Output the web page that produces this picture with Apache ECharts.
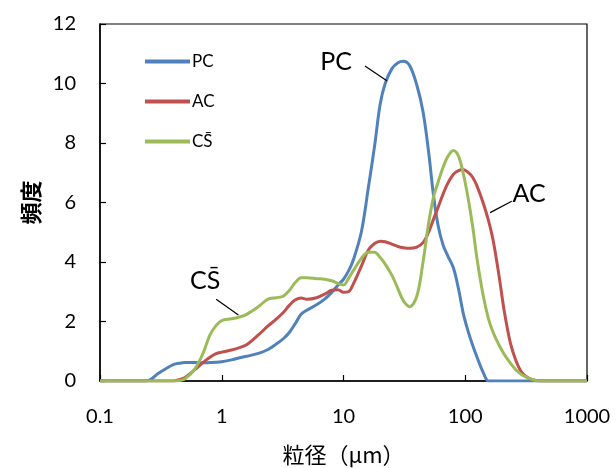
<!DOCTYPE html>
<html>
<head>
<meta charset="utf-8">
<script src="https://cdn.jsdelivr.net/npm/echarts@6/dist/echarts.min.js"></script>
<style>
  html, body { margin: 0; padding: 0; background: #fff; }
  #chart { width: 616px; height: 468px; }
</style>
</head>
<body>
<div id="chart"></div>
<script>
// 粒径 (μm)
const sizes = [0.1, 0.2, 0.25, 0.3, 0.35, 0.4, 0.45, 0.5, 0.6, 0.7, 0.8, 0.9, 1.0, 1.2, 1.4, 1.6,
  2.0, 2.4, 2.8, 3.2, 3.6, 4.0, 4.5, 5.0, 6.0, 7.0, 8.0, 9.0, 10, 11, 12, 14, 16, 18, 20, 22,
  25, 28, 31, 35, 40, 45, 50, 55, 60, 66, 72, 80, 88, 96, 105, 115, 125, 140, 155, 170, 190,
  210, 235, 260, 290, 330, 380, 450, 600, 1000];

const pcFreq = [0, 0, 0.02, 0.25, 0.42, 0.55, 0.6, 0.62, 0.62, 0.61, 0.62, 0.63, 0.65, 0.71, 0.78, 0.83,
  0.93, 1.06, 1.24, 1.42, 1.64, 1.92, 2.25, 2.38, 2.56, 2.75, 2.98, 3.22, 3.42, 3.7, 4.05, 5.0, 6.5, 7.9, 9.3, 10.0,
  10.5, 10.7, 10.75, 10.6, 9.95, 9.05, 7.7, 6.2, 5.2, 4.55, 4.2, 3.8, 3.1, 2.3, 1.7, 1.2, 0.8, 0.3, 0, 0, 0,
  0, 0, 0, 0, 0, 0, 0, 0, 0];

const acFreq = [0, 0, 0, 0, 0, 0, 0.05, 0.12, 0.38, 0.62, 0.8, 0.92, 0.97, 1.04, 1.12, 1.22,
  1.55, 1.85, 2.08, 2.3, 2.55, 2.72, 2.79, 2.75, 2.8, 2.92, 3.05, 3.07, 2.98, 3.0, 3.25, 3.85, 4.4, 4.62, 4.7, 4.68,
  4.6, 4.52, 4.48, 4.46, 4.5, 4.65, 5.0, 5.45, 5.85, 6.3, 6.65, 6.95, 7.07, 7.11, 7.02, 6.85, 6.55, 6.0, 5.4, 4.7, 3.5,
  2.3, 1.27, 0.7, 0.3, 0.1, 0.02, 0, 0, 0];

const csFreq = [0, 0, 0, 0, 0, 0, 0.02, 0.07, 0.4, 0.92, 1.55, 1.87, 2.03, 2.09, 2.15, 2.24,
  2.5, 2.75, 2.8, 2.85, 3.05, 3.3, 3.47, 3.47, 3.44, 3.42, 3.37, 3.28, 3.23, 3.45, 3.7, 4.12, 4.33, 4.33, 4.15, 3.93,
  3.55, 3.1, 2.7, 2.5, 2.85, 4.0, 5.3, 6.2, 6.7, 7.2, 7.55, 7.75, 7.56, 7.0, 6.2, 5.2, 4.1, 2.9, 2.1, 1.62, 1.2,
  0.88, 0.6, 0.38, 0.22, 0.1, 0.02, 0, 0, 0];

const seriesNames = ['PC', 'AC', 'CS\u0304'];
const seriesColors = ['#4F81BD', '#C0504D', '#9BBB59'];

const labelFont = 'Lato, "Noto Sans", "Noto Sans CJK JP", sans-serif';
const cjkFont = '"Noto Sans CJK JP", "Noto Sans", sans-serif';

function pairs(ys) {
  return sizes.map((x, i) => [x, ys[i]]);
}

function callout(text, textAt, from, to) {
  return {
    markLine: {
      silent: true,
      symbol: 'none',
      animation: false,
      label: { show: false },
      lineStyle: { color: '#000', width: 1.2, type: 'solid' },
      data: [[{ coord: from }, { coord: to }]]
    },
    markPoint: {
      silent: true,
      animation: false,
      symbol: 'rect',
      symbolSize: 1,
      itemStyle: { color: 'rgba(0,0,0,0)' },
      label: {
        show: true,
        position: 'inside',
        color: '#000',
        fontFamily: labelFont,
        fontSize: 25,
        formatter: text
      },
      data: [{ coord: textAt }]
    }
  };
}

const callouts = [
  callout('PC', [8.7, 10.72], [15.0, 10.59], [22.7, 10.09]),
  callout('AC', [335, 6.3], [160, 5.66], [241, 6.04]),
  callout('CS\u0304', [0.73, 3.37], [0.9, 2.75], [1.37, 2.22])
];

const freqs = [pcFreq, acFreq, csFreq];

let myChart = echarts.init(document.getElementById('chart'));
let option = {
  animation: false,
  grid: {
    left: 100,
    right: 29,
    top: 24,
    bottom: 87,
    outerBoundsMode: 'none',
    show: true,
    borderColor: '#000',
    borderWidth: 1.2
  },
  legend: {
    orient: 'vertical',
    left: 140,
    top: 48,
    itemWidth: 45,
    itemHeight: 4,
    itemGap: 23,
    icon: 'rect',
    textStyle: { fontFamily: labelFont, fontSize: 17, color: '#000', padding: [0, 0, 0, -3] },
    data: seriesNames
  },
  xAxis: {
    type: 'log',
    logBase: 10,
    min: 0.1,
    max: 1000,
    name: '粒径（μm）',
    nameLocation: 'middle',
    nameGap: 63,
    nameTextStyle: { fontFamily: cjkFont, fontSize: 22, color: '#000' },
    axisLine: { lineStyle: { color: '#000', width: 1.5 } },
    axisTick: { inside: true, length: 6, lineStyle: { color: '#000', width: 1.2 } },
    minorTick: { show: false },
    splitLine: { show: false },
    axisLabel: {
      margin: 26,
      fontFamily: labelFont,
      fontSize: 20,
      color: '#000',
      formatter: v => String(v)
    }
  },
  yAxis: {
    type: 'value',
    min: 0,
    max: 12,
    interval: 2,
    name: '頻度',
    nameLocation: 'middle',
    nameGap: 58,
    nameRotate: 90,
    nameTextStyle: { fontFamily: cjkFont, fontSize: 22, color: '#000', fontWeight: 'bold' },
    axisLine: { show: true, lineStyle: { color: '#000', width: 1.5 } },
    axisTick: { show: true, inside: true, length: 6, lineStyle: { color: '#000', width: 1.2 } },
    splitLine: { show: false },
    axisLabel: { margin: 24, fontFamily: labelFont, fontSize: 20, color: '#000' }
  },
  series: seriesNames.map((name, i) => Object.assign({
    name: name,
    type: 'line',
    data: pairs(freqs[i]),
    smooth: 0.35,
    showSymbol: false,
    symbol: 'none',
    lineStyle: { width: 3, color: seriesColors[i] },
    itemStyle: { color: seriesColors[i] }
  }, callouts[i]))
};

myChart.setOption(option, true);
</script>
</body>
</html>
